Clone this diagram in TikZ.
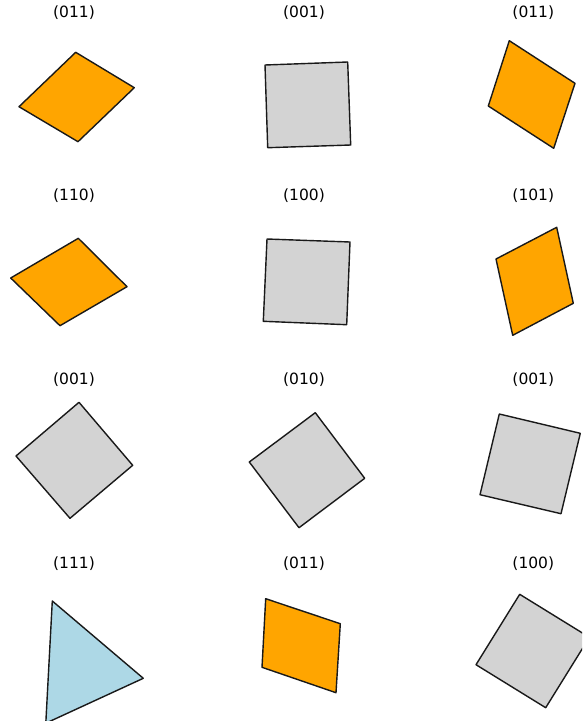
\documentclass[tikz,border=0pt]{standalone}
\usepackage{fontspec}
\setmainfont{DejaVu Sans}
\usepackage{tikz}
\definecolor{facecu}{RGB}{255,165,0}
\definecolor{facesq}{RGB}{211,211,211}
\definecolor{facetri}{RGB}{173,216,230}
\tikzset{
  lbl/.style={anchor=base,inner sep=0pt,font=\fontsize{15.5}{18}\selectfont,text=black},
  face/.style={draw=black!90,line width=1.4pt,line join=round}
}

\begin{document}
\begin{tikzpicture}[x=1pt,y=-1pt]
\useasboundingbox (0,0) rectangle (582,721);
\clip (0,0) rectangle (582,721);
% row 1
\node[lbl] (l11) at (74,17) {(011)};
\node[lbl] (l12) at (304,17) {(001)};
\node[lbl] (l13) at (533.3,17) {(011)};
\draw[face,fill=facecu] (75.7,52.3) -- (134.3,87.7) -- (78,141.7) -- (19,106.7) -- cycle;
\draw[face,fill=facesq] (265,65) -- (347.7,62) -- (350.7,145) -- (267.7,147.7) -- cycle;
\draw[face,fill=facecu] (509.3,40.7) -- (575,83.3) -- (553.7,148.3) -- (488.3,106) -- cycle;
% row 2
\node[lbl] (l21) at (74,200.7) {(110)};
\node[lbl] (l22) at (304,200.7) {(100)};
\node[lbl] (l23) at (533.3,200.7) {(101)};
\draw[face,fill=facecu] (78.3,238.3) -- (127,286.7) -- (60,325.7) -- (10.7,278) -- cycle;
\draw[face,fill=facesq] (267,239) -- (350,242) -- (346.7,324.7) -- (263.3,321.3) -- cycle;
\draw[face,fill=facecu] (556.7,227.3) -- (573.3,303.3) -- (512.7,335.3) -- (496,259) -- cycle;
% row 3
\node[lbl] (l31) at (74,384.4) {(001)};
\node[lbl] (l32) at (304,384.4) {(010)};
\node[lbl] (l33) at (533.3,384.4) {(001)};
\draw[face,fill=facesq] (79,402.3) -- (132.7,465.3) -- (70,518.3) -- (16,456) -- cycle;
\draw[face,fill=facesq] (315.3,412.7) -- (364.7,478.3) -- (299,527.7) -- (249.3,462) -- cycle;
\draw[face,fill=facesq] (499.3,414) -- (580.3,433.3) -- (561,513.7) -- (480,494.7) -- cycle;
% row 4
\node[lbl] (l41) at (74,568.1) {(111)};
\node[lbl] (l42) at (304,568.1) {(011)};
\node[lbl] (l43) at (533.3,568.1) {(100)};
\draw[face,fill=facetri] (52.3,601) -- (143.3,678.3) -- (45.8,723.2) -- cycle;
\draw[face,fill=facecu] (265.7,598.7) -- (340.3,623.7) -- (336,692.7) -- (262,667.3) -- cycle;
\draw[face,fill=facesq] (519.7,594.3) -- (589.4,637.3) -- (545.7,707.7) -- (476,664.7) -- cycle;
\end{tikzpicture}
\end{document}
